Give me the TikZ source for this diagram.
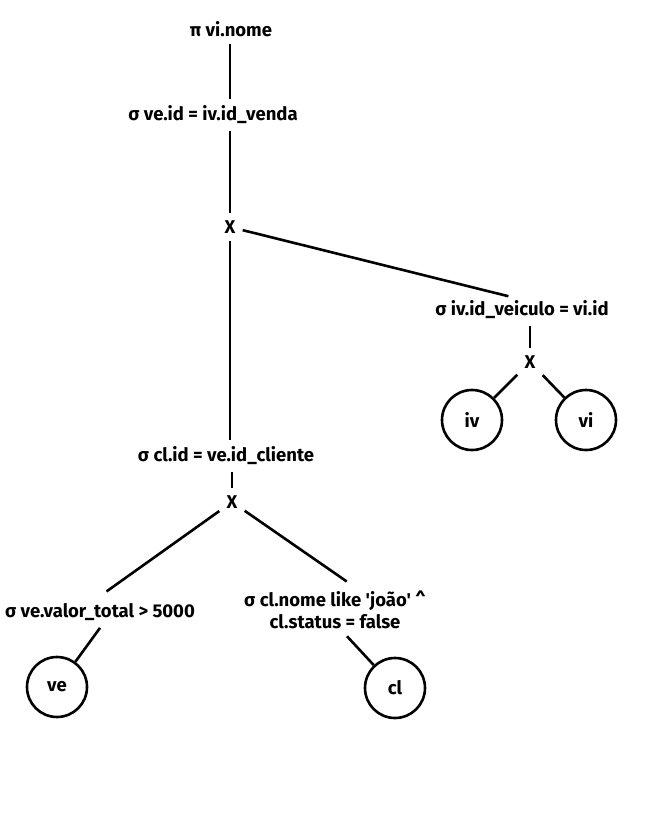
\documentclass[tikz,border=0pt]{standalone}
\usepackage{fontspec}
\setmainfont{Fira Sans}[Ligatures=TeXOff]
\usetikzlibrary{positioning}

\begin{document}
\begin{tikzpicture}[x=1pt,y=-1pt,line width=2.6pt,
    op/.style={font=\fontsize{18.5}{22}\selectfont\bfseries,inner sep=6pt,align=center},
    rel/.style={circle,draw,minimum size=60pt,inner sep=0pt,font=\fontsize{18.5}{22}\selectfont\bfseries}]
    \useasboundingbox (0,0) rectangle (648,814);
    \node[op]   (proj) at (231,29)  {π vi.nome};
    \node[op]   (sel1) at (213,115) {σ ve.id = iv.id\_venda};
    \node[op]   (x1)   at (230,227) {X};
    \node[op]   (sel2) at (522,310) {σ iv.id\_veiculo = vi.id};
    \node[op]   (x2)   at (530,362) {X};
    \node[rel]  (iv)   at (472,420) {iv};
    \node[rel]  (vi)   at (586,420) {vi};
    \node[op]   (sel3) at (226,456) {σ cl.id = ve.id\_cliente};
    \node[op]   (x3)   at (232,502) {X};
    \node[op]   (sel4) at (100,612) {σ ve.valor\_total > 5000};
    \node[op]   (sel5) at (335,610) {σ cl.nome like 'joão' \textasciicircum\\cl.status = false};
    \node[rel]  (ve)   at (57,687)  {ve};
    \node[rel]  (cl)   at (395,688) {cl};
    \path[draw]
    (proj.south -| x1) edge (sel1.north -| x1)
    (sel1.south -| x1) edge (x1)
    (x1) edge (sel3.north -| x1)
         edge [shorten >=14pt] ([yshift=-6pt]sel2.north)
    (sel2.south -| x2) edge (x2)
    (x2) edge (iv)
         edge (vi)
    (sel3.south -| x3) edge (x3)
    (x3) edge [shorten >=8pt] (sel4.north)
         edge [shorten >=4pt] ([xshift=15pt]sel5.north)
    (sel4.south) edge (ve)
    ([xshift=12pt]sel5.south) edge (cl);
\end{tikzpicture}
\end{document}
